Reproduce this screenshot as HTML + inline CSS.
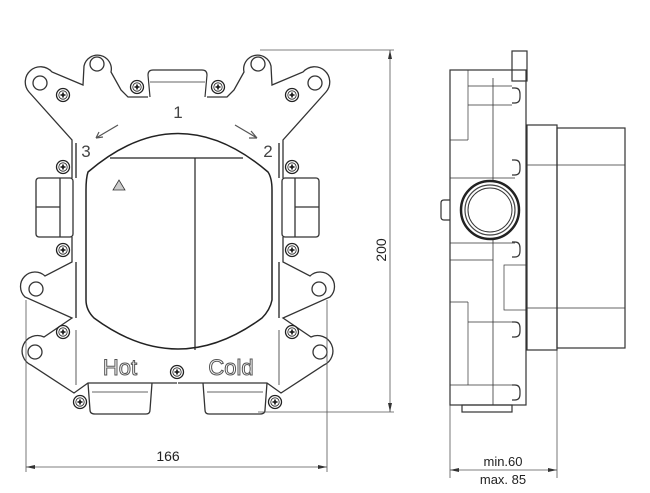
<!DOCTYPE html>
<html><head><meta charset="utf-8"><style>
html,body{margin:0;padding:0;background:#fff;}
svg{display:block;font-family:"Liberation Sans",sans-serif;}
</style></head><body>
<svg width="650" height="493" viewBox="0 0 650 493" xmlns="http://www.w3.org/2000/svg">
<defs>
<g id="scr"><circle r="6.5" fill="#fff" stroke="#222" stroke-width="1.3"/><circle r="4.2" fill="none" stroke="#222" stroke-width="0.8"/><path d="M-2.5 0H2.5M0 -2.5V2.5" stroke="#111" stroke-width="1.6"/></g>
<g id="half" fill="none" stroke="#333" stroke-width="1.3">
<path d="M148 97 L128 97 L121 90 L111 72 A13 13 0 0 0 84 66 L83 85 L52 72 A13 13 0 0 0 29 92 L72 140 L72 178 M72 237 L72 262 L45 276 A13 13 0 0 0 25 297 L72 318 L44 337 A13 13 0 0 0 31 365 L74 393 L88 383 L177 383"/>
<circle cx="97" cy="64" r="7"/><circle cx="40" cy="83" r="7"/><circle cx="36" cy="289" r="7"/><circle cx="35" cy="352" r="7"/>
<line x1="76" y1="143" x2="76" y2="178" stroke-width="1.4"/>
<line x1="76" y1="262" x2="76" y2="318" stroke-width="1.4"/>
<line x1="76" y1="330" x2="76" y2="385" stroke-width="0.8"/>
<rect x="36" y="178" width="37" height="59" rx="3"/>
<line x1="36" y1="207" x2="60" y2="207"/><line x1="60" y1="178" x2="60" y2="237"/>
<path d="M88 383 L90 410 Q90 414 95 414 L146 414 Q150 414 150 410 L152 383"/>
<line x1="92" y1="392" x2="148" y2="392" stroke-width="0.7"/>
<use href="#scr" x="63" y="95"/><use href="#scr" x="137" y="87"/><use href="#scr" x="63" y="167"/><use href="#scr" x="63" y="250"/><use href="#scr" x="63" y="332"/><use href="#scr" x="80" y="402"/>
</g>
</defs>
<use href="#half"/>
<use href="#half" transform="translate(355,0) scale(-1,1)"/>
<path d="M150 97 L148 75 Q148 70 153 70 L202 70 Q207 70 207 75 L205 97" fill="none" stroke="#333" stroke-width="1.2"/>
<line x1="150" y1="82" x2="205" y2="82" stroke="#333" stroke-width="0.7"/>
<path d="M88 172 Q178 95 268 172 Q272 178 272 190 L272 300 Q270 310 262 318 Q178 380 94 318 Q86 310 86 300 L86 190 Q86 178 88 172Z" fill="none" stroke="#222" stroke-width="1.5"/>
<line x1="110" y1="158" x2="243" y2="158" stroke="#222" stroke-width="1.2"/>
<line x1="195" y1="158" x2="195" y2="350" stroke="#222" stroke-width="1.2"/>
<path d="M113 190 L119 180 L125 190Z" fill="#ccc" stroke="#333" stroke-width="0.8"/>
<use href="#scr" x="177" y="372"/>
<text x="178" y="118" font-size="17" text-anchor="middle" fill="#444">1</text>
<text x="86" y="157" font-size="17" text-anchor="middle" fill="#444">3</text>
<text x="268" y="157" font-size="17" text-anchor="middle" fill="#444">2</text>
<path d="M118 125 L96 138 M96 138 L99 132 M96 138 L103 137" stroke="#555" fill="none" stroke-width="1.2"/>
<path d="M235 125 L257 138 M257 138 L251 131 M257 138 L249 138" stroke="#555" fill="none" stroke-width="1.2"/>
<text x="120" y="375" font-size="22" text-anchor="middle" fill="#fff" stroke="#555" stroke-width="1">Hot</text>
<text x="231" y="375" font-size="22" text-anchor="middle" fill="#fff" stroke="#555" stroke-width="1">Cold</text>
<g stroke="#555" stroke-width="0.8" fill="none">
<line x1="26" y1="300" x2="26" y2="472"/><line x1="327" y1="300" x2="327" y2="472"/>
<line x1="26" y1="467" x2="327" y2="467"/>
<line x1="260" y1="50" x2="394" y2="50"/><line x1="258" y1="412" x2="394" y2="412"/>
<line x1="390" y1="50" x2="390" y2="412"/>
<line x1="450" y1="405" x2="450" y2="478"/><line x1="557" y1="350" x2="557" y2="478"/>
<line x1="450" y1="470" x2="557" y2="470"/>
</g>
<g fill="#333">
<path d="M26 467 l9 -2 v4z"/><path d="M327 467 l-9 -2 v4z"/>
<path d="M390 50 l-2 9 h4z"/><path d="M390 412 l-2 -9 h4z"/>
<path d="M450 470 l9 -2 v4z"/><path d="M557 470 l-9 -2 v4z"/>
</g>
<text x="168" y="461" font-size="14" text-anchor="middle" fill="#222">166</text>
<text x="0" y="0" font-size="14" text-anchor="middle" fill="#222" transform="translate(386,250) rotate(-90)">200</text>
<text x="503" y="466" font-size="13" text-anchor="middle" fill="#222">min.60</text>
<text x="503" y="484" font-size="13" text-anchor="middle" fill="#222">max. 85</text>
<g fill="none" stroke="#333" stroke-width="1.2">
<rect x="512" y="51" width="15" height="30"/>
<rect x="450" y="70" width="76" height="335"/>
<rect x="462" y="405" width="50" height="7"/>
<line x1="468" y1="70" x2="468" y2="140" stroke-width="0.7"/><line x1="450" y1="140" x2="468" y2="140" stroke-width="0.7"/>
<line x1="468" y1="302" x2="468" y2="385" stroke-width="0.7"/><line x1="450" y1="302" x2="468" y2="302" stroke-width="0.7"/>
<line x1="493" y1="78" x2="493" y2="405" stroke-width="0.8"/>
<line x1="468" y1="86" x2="512" y2="86" stroke-width="0.7"/>
<line x1="468" y1="105" x2="512" y2="105" stroke-width="0.7"/>
<line x1="450" y1="178" x2="515" y2="178" stroke-width="0.7"/>
<line x1="450" y1="243" x2="515" y2="243" stroke-width="0.7"/>
<line x1="450" y1="260" x2="493" y2="260" stroke-width="0.7"/>
<line x1="468" y1="322" x2="515" y2="322" stroke-width="0.7"/>
<line x1="450" y1="385" x2="515" y2="385" stroke-width="0.7"/>
<path d="M512 88 h3 q5 0 5 6 v3 q0 6 -5 6 h-3"/>
<path d="M512 160 h3 q5 0 5 6 v3 q0 6 -5 6 h-3"/>
<path d="M512 242 h3 q5 0 5 6 v3 q0 6 -5 6 h-3"/>
<path d="M512 322 h3 q5 0 5 6 v3 q0 6 -5 6 h-3"/>
<path d="M512 385 h3 q5 0 5 6 v3 q0 6 -5 6 h-3"/>
<rect x="504" y="265" width="22" height="45" stroke-width="0.7"/>
<path d="M450 200 h-6 q-3 0 -3 3 v14 q0 3 3 3 h6"/>
<rect x="527" y="125" width="30" height="225"/>
<rect x="557" y="128" width="68" height="220"/>
<line x1="527" y1="165" x2="625" y2="165" stroke-width="0.7"/>
<line x1="527" y1="308" x2="625" y2="308" stroke-width="0.7"/>
</g>
<circle cx="490" cy="210" r="29" fill="#fff" stroke="#222" stroke-width="2.5"/>
<circle cx="490" cy="210" r="25" fill="none" stroke="#444" stroke-width="1.2"/>
<circle cx="490" cy="210" r="22" fill="none" stroke="#333" stroke-width="1"/>
</svg>
</body></html>
